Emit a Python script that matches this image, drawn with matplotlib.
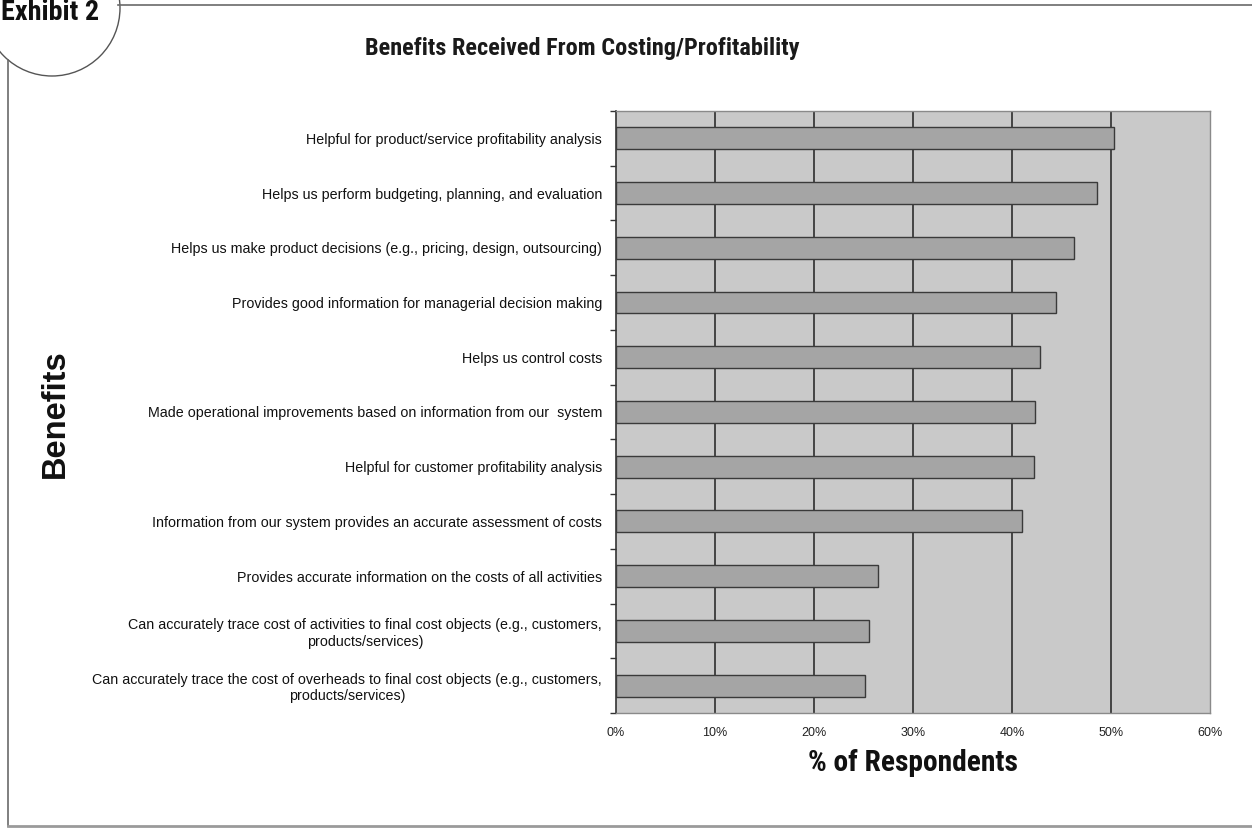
import matplotlib
matplotlib.use("Agg")
import matplotlib.pyplot as plt
from matplotlib import font_manager
from matplotlib.patches import Circle
from matplotlib.lines import Line2D
import numpy as np

# Survey data: share of respondents citing each benefit (%)
benefits = [
    "Helpful for product/service profitability analysis",
    "Helps us perform budgeting, planning, and evaluation",
    "Helps us make product decisions (e.g., pricing, design, outsourcing)",
    "Provides good information for managerial decision making",
    "Helps us control costs",
    "Made operational improvements based on information from our  system",
    "Helpful for customer profitability analysis",
    "Information from our system provides an accurate assessment of costs",
    "Provides accurate information on the costs of all activities",
    "Can accurately trace cost of activities to final cost objects (e.g., customers,\nproducts/services)",
    "Can accurately trace the cost of overheads to final cost objects (e.g., customers,\nproducts/services)",
]
respondents_pct = [50.3, 48.6, 46.3, 44.5, 42.8, 42.3, 42.2, 41.0, 26.5, 25.6, 25.2]
x_ticks = [0, 10, 20, 30, 40, 50, 60]
x_tick_labels = ["0%", "10%", "20%", "30%", "40%", "50%", "60%"]

SANS = ["Liberation Sans", "DejaVu Sans"]

# choose a condensed bold face for the headings, in order of preference
def pick_condensed():
    fonts = font_manager.fontManager.ttflist
    names = {f.name for f in fonts}
    for nm in ("Roboto Condensed", "Liberation Sans Narrow", "Arial Narrow"):
        if nm in names:
            return nm, "normal"
    for f in fonts:
        if f.name == "DejaVu Sans" and str(f.stretch) in ("condensed", "semi-condensed"):
            return "DejaVu Sans", "condensed"
    for f in fonts:
        if f.name == "Roboto" and str(f.stretch) in ("condensed", "semi-condensed"):
            return "Roboto", "condensed"
    return "Liberation Sans", "normal"

COND_NAME, COND_STRETCH = pick_condensed()
COND = [COND_NAME, "DejaVu Sans"]

fig = plt.figure(figsize=(12.52, 8.30), dpi=100)
fig.patch.set_facecolor("white")
W, H = 1252, 830

ax = fig.add_axes([0.492, 0.141, 0.4744, 0.7253])
ax.set_facecolor("#c9c9c9")

n = len(benefits)
y = np.arange(n)
ax.barh(y, respondents_pct, height=0.4, color="#a5a5a5",
        edgecolor="#3a3a3a", linewidth=1.0, zorder=3)

ax.set_xlim(0, 60)
ax.set_ylim(n - 0.5, -0.5)

# vertical gridlines
for xv in x_ticks[1:-1]:
    ax.axvline(xv, color="#2e2e2e", linewidth=1.2, zorder=2)

ax.set_xticks(x_ticks)
ax.set_xticklabels(x_tick_labels, family=SANS, fontsize=9, color="#222222")
ax.tick_params(axis="x", length=0, pad=10)

ax.set_yticks(y)
ax.set_yticklabels(benefits, family=SANS, fontsize=10.3, color="#111111",
                   multialignment="center")
ax.tick_params(axis="y", which="major", length=0, pad=10)
ax.set_yticks(np.arange(n + 1) - 0.5, minor=True)
ax.tick_params(axis="y", which="minor", length=4, width=1, color="#333333",
               direction="out")

for side in ("top", "right", "bottom"):
    ax.spines[side].set_color("#8a8a8a")
    ax.spines[side].set_linewidth(1.0)
ax.spines["left"].set_color("#333333")
ax.spines["left"].set_linewidth(1.2)

xlab = fig.text(913 / W, 1 - 763 / H, "% of Respondents", ha="center", va="center",
                family=COND, fontstretch=COND_STRETCH, fontsize=20,
                fontweight="bold", color="#111111")

fig.text(55 / W, 1 - 414 / H, "Benefits", rotation=90, ha="center", va="center",
         family=SANS, fontsize=23.5, fontweight="bold", color="#111111")

title = fig.text(582 / W, 1 - 48 / H, "Benefits Received From Costing/Profitability",
                 ha="center", va="center", family=COND, fontstretch=COND_STRETCH,
                 fontsize=18, fontweight="bold", color="#1a1a1a")

# Exhibit frame: top rule, left rule, bottom rule and corner circle
def fx(px):
    return px / W
def fy(py):
    return 1 - py / H

frame_color = "#6a6a6a"
fig.add_artist(Line2D([fx(118), fx(1252)], [fy(5), fy(5)], color=frame_color, lw=1.2))
fig.add_artist(Line2D([fx(8), fx(8)], [fy(60), fy(826)], color=frame_color, lw=1.2))
fig.add_artist(Line2D([fx(8), fx(1252)], [fy(826), fy(826)], color="#9a9a9a", lw=2))

circ_ax = fig.add_axes([0, 0, 1, 1], facecolor="none")
circ_ax.set_xlim(0, W)
circ_ax.set_ylim(H, 0)
circ_ax.set_axis_off()
circ_ax.add_patch(Circle((52, 8), 68, facecolor="white", edgecolor="#555555",
                         lw=1.0, zorder=5))
exhibit = circ_ax.text(1, 20, "Exhibit 2", ha="left", va="baseline", family=COND,
                       fontstretch=COND_STRETCH, fontsize=16, fontweight="bold",
                       color="#111111", zorder=6)

# size headings to their printed widths
fig.canvas.draw()
renderer = fig.canvas.get_renderer()
for txt, target in ((title, 435), (xlab, 210), (exhibit, 98)):
    w = txt.get_window_extent(renderer).width
    txt.set_fontsize(txt.get_fontsize() * target / w)

fig.savefig("out.png", dpi=100, facecolor="white")
